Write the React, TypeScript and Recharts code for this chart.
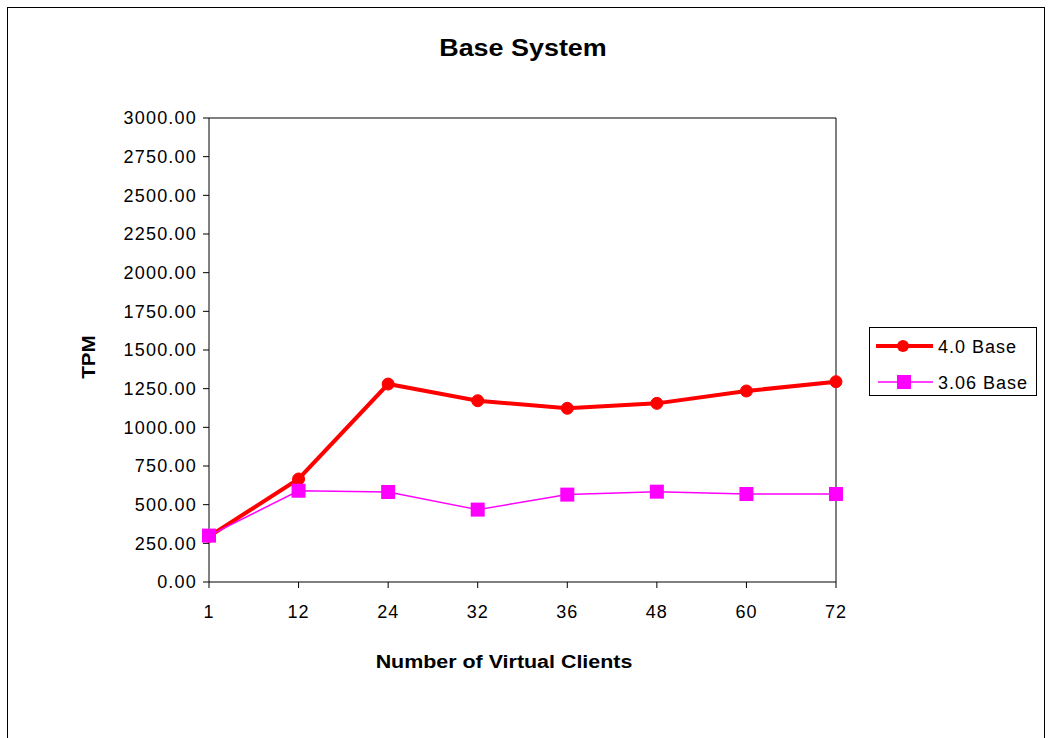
import React from 'react';
import { LineChart, Line, XAxis, YAxis } from 'recharts';

const clients = ['1', '12', '24', '32', '36', '48', '60', '72'];
const base40 = [295, 666, 1280, 1172, 1123, 1155, 1235, 1295];
const base306 = [300, 590, 582, 468, 565, 584, 569, 569];
const yTicks = [0, 250, 500, 750, 1000, 1250, 1500, 1750, 2000, 2250, 2500, 2750, 3000];

const data = clients.map((c, i) => ({ clients: c, v40: base40[i], v306: base306[i] }));

const FONT = '"Liberation Sans", Arial, sans-serif';
const RED = '#ff0000';
const MAGENTA = '#ff00ff';

const SquareDot = (props: any) => {
  const { cx, cy } = props;
  if (cx == null || cy == null) return null;
  return <rect x={cx - 7} y={cy - 7} width={14} height={14} fill={MAGENTA} />;
};

const LegendBox = () => (
  <div style={{ position: 'absolute', left: 869, top: 327, width: 168, height: 69, border: '1px solid #000', boxSizing: 'border-box', background: '#fff' }}>
    <svg width={166} height={67} style={{ display: 'block' }}>
      <line x1={6} y1={18} x2={63} y2={18} stroke={RED} strokeWidth={4} />
      <circle cx={33} cy={18} r={6} fill={RED} />
      <text x={68} y={25} fontSize={18} letterSpacing={1} fontFamily={FONT} fill="#000">4.0 Base</text>
      <line x1={8} y1={54} x2={63} y2={54} stroke={MAGENTA} strokeWidth={1.5} />
      <rect x={27} y={47} width={14} height={14} fill={MAGENTA} />
      <text x={68} y={61} fontSize={18} letterSpacing={1} fontFamily={FONT} fill="#000">3.06 Base</text>
    </svg>
  </div>
);

export default function App() {
  return (
    <div style={{ position: 'absolute', left: 0, top: 0, width: 1049, height: 738, background: '#fff', fontFamily: FONT, overflow: 'hidden' }}>
      <div style={{ position: 'absolute', left: 7, top: 7, width: 1036, height: 760, border: '1px solid #000' }} />
      <div style={{ position: 'absolute', left: 0, top: 35, width: 1046, textAlign: 'center', fontSize: 23, fontWeight: 'bold', transform: 'scaleX(1.17)' }}>
        Base System
      </div>
      <div style={{ position: 'absolute', left: 0, top: 652, width: 1008, textAlign: 'center', fontSize: 18, fontWeight: 'bold', transform: 'scaleX(1.19)' }}>
        Number of Virtual Clients
      </div>
      <div style={{ position: 'absolute', left: 89, top: 357, transform: 'translate(-50%, -50%) rotate(-90deg) scaleX(1.15)', fontSize: 18, fontWeight: 'bold' }}>
        TPM
      </div>
      <div style={{ position: 'absolute', left: 0, top: 0 }}>
        <LineChart width={1049} height={738} data={data} margin={{ top: 117, right: 212, bottom: 126, left: 119 }}>
          <XAxis
            xAxisId="bottom"
            dataKey="clients"
            stroke="#000"
            tickLine={{ stroke: '#000' }}
            tickSize={6}
            tickMargin={17}
            tick={{ fill: '#000', fontSize: 18, fontFamily: FONT, letterSpacing: 1 }}
            height={30}
          />
          <XAxis xAxisId="top" orientation="top" dataKey="clients" stroke="#000" tick={false} tickLine={false} height={1} />
          <YAxis
            yAxisId="left"
            domain={[0, 3000]}
            ticks={yTicks}
            stroke="#000"
            tickSize={6}
            tickMargin={6}
            width={90}
            tick={{ fill: '#000', fontSize: 18, fontFamily: FONT, letterSpacing: 1.2 }}
            tickFormatter={(v: number) => v.toFixed(2)}
          />
          <YAxis yAxisId="right" orientation="right" domain={[0, 3000]} stroke="#000" tick={false} tickLine={false} width={1} />
          <Line
            xAxisId="bottom"
            yAxisId="left"
            dataKey="v40"
            name="4.0 Base"
            stroke={RED}
            strokeWidth={4}
            dot={{ r: 6, fill: RED, stroke: RED, strokeWidth: 1 }}
            isAnimationActive={false}
          />
          <Line
            xAxisId="bottom"
            yAxisId="left"
            dataKey="v306"
            name="3.06 Base"
            stroke={MAGENTA}
            strokeWidth={1.5}
            dot={<SquareDot />}
            isAnimationActive={false}
          />
        </LineChart>
      </div>
      <LegendBox />
    </div>
  );
}
